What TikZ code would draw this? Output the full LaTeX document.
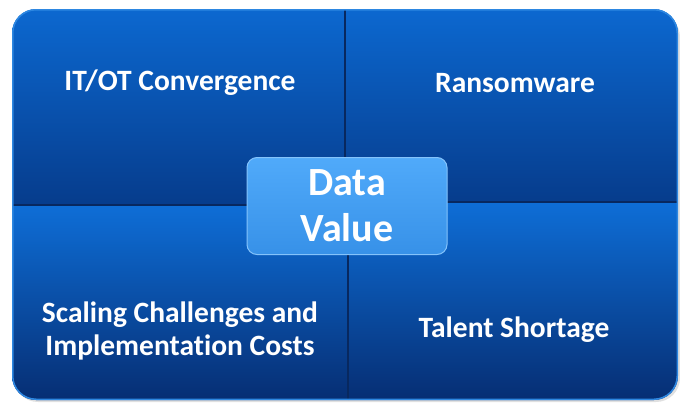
\documentclass[tikz,border=0pt]{standalone}
\usepackage{fontspec}
\setmainfont[Ligatures=NoCommon]{Carlito}
\usetikzlibrary{calc}

\definecolor{quadtop}{RGB}{12,104,208}
\definecolor{quadbot}{RGB}{6,60,140}
\definecolor{lowtop}{RGB}{14,110,215}
\definecolor{lowbot}{RGB}{6,46,115}
\definecolor{edgeblue}{RGB}{45,135,225}
\definecolor{seamblue}{RGB}{8,40,95}
\definecolor{hubtop}{RGB}{80,170,250}
\definecolor{hubbot}{RGB}{55,145,232}

\tikzset{
  quadtext/.style={text=white, font=\bfseries\fontsize{29.5}{33}\selectfont, align=center},
  hubbox/.style={draw=hubtop!70!white, line width=1pt, rounded corners=10pt,
    top color=hubtop, bottom color=hubbot, minimum width=200pt, minimum height=97pt,
    text=white, font=\bfseries\fontsize{40}{46}\selectfont, align=center}
}

\begin{document}
\begin{tikzpicture}[x=1pt,y=-1pt]
            \useasboundingbox (0,0) rectangle (680,402);
            % faint drop shadow
            \fill[black!12, rounded corners=24] (14,13) rectangle (680,402);
            \begin{scope}
            \clip[rounded corners=24] (12,9) rectangle (678,400);
            \shade[top color=quadtop, bottom color=quadbot] (12,9) rectangle (345,205);
            \shade[top color=quadtop, bottom color=quadbot] (345,9) rectangle (678,202);
            \shade[top color=lowtop, bottom color=lowbot] (12,205) rectangle (348,400);
            \shade[top color=lowtop, bottom color=lowbot] (348,202) rectangle (678,400);
            \draw[seamblue, line width=2pt] (345,9) -- (345,202) -- (348,202) -- (348,400);
            \draw[seamblue, line width=2pt] (12,205) -- (348,205);
            \draw[seamblue, line width=2pt] (348,202) -- (678,202);
            \draw[edgeblue, line width=3pt, rounded corners=24] (12,9) rectangle (678,400);
            \end{scope}
            \node[quadtext] (itot) at (180,83) {IT/OT Convergence};
            \node[quadtext] (ransom) at (515,83) {Ransomware};
            \node[quadtext] (scaling) at (180,331) {Scaling Challenges and\\Implementation Costs};
            \node[quadtext] (talent) at (514,330) {Talent Shortage};
            \node[hubbox] (hub) at (347,206) {Data\\Value};
        \end{tikzpicture}
\end{document}
